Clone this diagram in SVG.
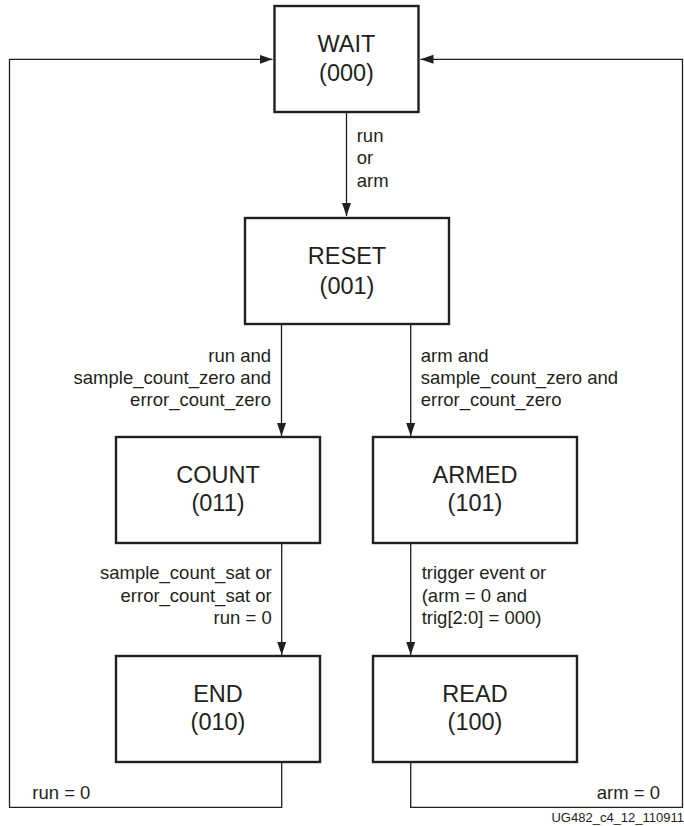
<svg xmlns="http://www.w3.org/2000/svg" width="684" height="826" viewBox="0 0 684 826">
<style>
  .box { fill: #ffffff; stroke: #231f20; stroke-width: 2.4; }
  .st { font-family: "Liberation Sans", Arial, sans-serif; font-size: 23.5px; fill: #231f20; text-anchor: middle; }
  .lbl { font-family: "Liberation Sans", Arial, sans-serif; font-size: 18.5px; fill: #231f20; }
  .end { text-anchor: end; }
  .wire { fill: none; stroke: #231f20; stroke-width: 1.3; }
  .fig { font-family: "Liberation Sans", Arial, sans-serif; font-size: 13px; fill: #231f20; text-anchor: end; }
</style>
<defs>
  <marker id="arr" markerUnits="userSpaceOnUse" markerWidth="14" markerHeight="10" refX="13" refY="4.5" orient="auto">
    <path d="M0,0 L13,4.5 L0,9 Z" fill="#231f20"/>
  </marker>
</defs>
<rect width="684" height="826" fill="#ffffff"/>

<g id="connectors">
  <line class="wire" x1="346.5" y1="112" x2="346.5" y2="216" marker-end="url(#arr)"/>
  <line class="wire" x1="281.5" y1="324" x2="281.5" y2="436" marker-end="url(#arr)"/>
  <line class="wire" x1="410.7" y1="324" x2="410.7" y2="436" marker-end="url(#arr)"/>
  <line class="wire" x1="281.7" y1="543" x2="281.7" y2="655" marker-end="url(#arr)"/>
  <line class="wire" x1="410.7" y1="543" x2="410.7" y2="655" marker-end="url(#arr)"/>
  <polyline class="wire" points="281.7,762 281.7,807.3 9.5,807.3 9.5,59.3 272.5,59.3" marker-end="url(#arr)"/>
  <polyline class="wire" points="410.7,762 410.7,807.3 682.5,807.3 682.5,59.3 420.5,59.3" marker-end="url(#arr)"/>

  <text class="lbl" x="356.7" y="141.7">run</text>
  <text class="lbl" x="356.7" y="164">or</text>
  <text class="lbl" x="356.7" y="186.7">arm</text>

  <text class="lbl end" x="271" y="361.7">run and</text>
  <text class="lbl end" x="271" y="383.9">sample_count_zero and</text>
  <text class="lbl end" x="271" y="406">error_count_zero</text>

  <text class="lbl" x="420.7" y="361.7">arm and</text>
  <text class="lbl" x="420.7" y="383.9">sample_count_zero and</text>
  <text class="lbl" x="420.7" y="406">error_count_zero</text>

  <text class="lbl end" x="271.7" y="579.3">sample_count_sat or</text>
  <text class="lbl end" x="271.7" y="601.7">error_count_sat or</text>
  <text class="lbl end" x="271.7" y="624">run = 0</text>

  <text class="lbl" x="421.7" y="579.3">trigger event or</text>
  <text class="lbl" x="421.7" y="601.7">(arm = 0 and</text>
  <text class="lbl" x="421.7" y="624">trig[2:0] = 000)</text>

  <text class="lbl" x="32.3" y="799.3">run = 0</text>
  <text class="lbl end" x="660" y="799.3">arm = 0</text>
</g>

<g id="wait">
  <rect class="box" x="274.5" y="6" width="144" height="106"/>
  <text class="st" x="346.5" y="52">WAIT</text>
  <text class="st" x="346.5" y="81">(000)</text>
</g>
<g id="reset">
  <rect class="box" x="245" y="218" width="204" height="106"/>
  <text class="st" x="347" y="264">RESET</text>
  <text class="st" x="347" y="293.5">(001)</text>
</g>
<g id="count">
  <rect class="box" x="116" y="437" width="204" height="106"/>
  <text class="st" x="218" y="482.5">COUNT</text>
  <text class="st" x="218" y="511">(011)</text>
</g>
<g id="armed">
  <rect class="box" x="373" y="437" width="204" height="106"/>
  <text class="st" x="475" y="482.5">ARMED</text>
  <text class="st" x="475" y="511">(101)</text>
</g>
<g id="end">
  <rect class="box" x="116" y="656" width="204" height="106"/>
  <text class="st" x="218" y="701.5">END</text>
  <text class="st" x="218" y="730">(010)</text>
</g>
<g id="read">
  <rect class="box" x="373" y="656" width="204" height="106"/>
  <text class="st" x="475" y="701.5">READ</text>
  <text class="st" x="475" y="730">(100)</text>
</g>

<text class="fig" x="684" y="822">UG482_c4_12_110911</text>
</svg>
